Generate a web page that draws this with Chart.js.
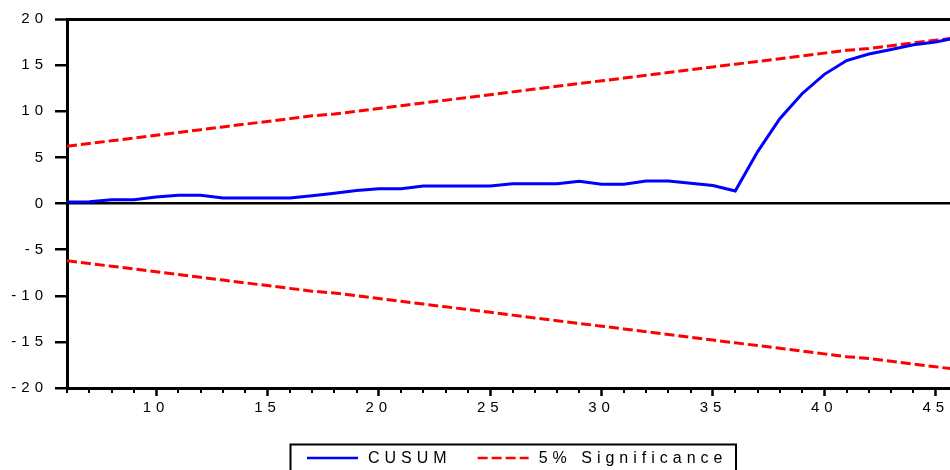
<!DOCTYPE html>
<html>
<head>
<meta charset="utf-8">
<script src="https://cdn.jsdelivr.net/npm/chart.js@4/dist/chart.umd.min.js"></script>
<style>
  html, body { margin: 0; padding: 0; background: #fff; overflow: hidden; }
  #wrap { width: 970px; height: 490px; }
</style>
</head>
<body>
<div id="wrap"><canvas id="cusumChart" width="970" height="490"></canvas></div>
<script>
// observation index (x axis)
const periods = [6, 7, 8, 9, 10, 11, 12, 13, 14, 15, 16, 17, 18, 19, 20, 21, 22, 23, 24, 25, 26,
  27, 28, 29, 30, 31, 32, 33, 34, 35, 36, 37, 38, 39, 40, 41, 42, 43, 44, 45, 46];

const cusum = [0.15, 0.2, 0.4, 0.4, 0.7, 0.9, 0.9, 0.6, 0.6, 0.6, 0.6, 0.85, 1.1, 1.4, 1.6, 1.6,
  1.9, 1.9, 1.9, 1.9, 2.15, 2.15, 2.15, 2.4, 2.1, 2.1, 2.45, 2.45, 2.2, 1.95, 1.35,
  5.6, 9.2, 11.9, 14.0, 15.5, 16.2, 16.7, 17.2, 17.5, 18.0];

const upper5 = [6.2, 6.5, 6.8, 7.1, 7.4, 7.7, 8.0, 8.3, 8.6, 8.9, 9.2, 9.5, 9.7, 10.0, 10.3, 10.6,
  10.9, 11.2, 11.5, 11.8, 12.1, 12.4, 12.7, 13.0, 13.3, 13.6, 13.9, 14.2, 14.5, 14.8, 15.1,
  15.4, 15.7, 16.0, 16.3, 16.6, 16.8, 17.1, 17.4, 17.7, 18.0];

const lower5 = [-6.2, -6.5, -6.8, -7.1, -7.4, -7.7, -8.0, -8.3, -8.6, -8.9, -9.2, -9.5, -9.7, -10.0, -10.3, -10.6,
  -10.9, -11.2, -11.5, -11.8, -12.1, -12.4, -12.7, -13.0, -13.3, -13.6, -13.9, -14.2, -14.5, -14.8, -15.1,
  -15.4, -15.7, -16.0, -16.3, -16.6, -16.8, -17.1, -17.4, -17.7, -18.0];

const xTicks = [10, 15, 20, 25, 30, 35, 40, 45];
const yTicks = [-20, -15, -10, -5, 0, 5, 10, 15, 20];

const FONT = "'Liberation Sans', Arial, sans-serif";

function points(values) {
  return periods.map((p, i) => ({ x: p, y: values[i] }));
}

// EViews style wide letter spacing
const spacedText = {
  id: "spacedText",
  beforeInit(chart) { chart.ctx.letterSpacing = "5px"; },
  beforeDraw(chart) { chart.ctx.letterSpacing = "5px"; }
};

// short unlabeled ticks on every observation
const minorTicks = {
  id: "minorTicks",
  afterDraw(chart) {
    const xs = chart.scales.x;
    const ctx = chart.ctx;
    const y0 = chart.chartArea.bottom;
    ctx.save();
    ctx.strokeStyle = "#000";
    ctx.lineWidth = 2;
    for (let v = Math.ceil(xs.min); v <= xs.max; v++) {
      if (v % 5 === 0) continue;
      const px = Math.round(xs.getPixelForValue(v));
      ctx.beginPath();
      ctx.moveTo(px, y0);
      ctx.lineTo(px, y0 + 5);
      ctx.stroke();
    }
    ctx.restore();
  }
};

// legend in a box under the chart
const boxedLegend = {
  id: "boxedLegend",
  afterDraw(chart) {
    const ctx = chart.ctx;
    const area = chart.chartArea;
    const items = chart.data.datasets.filter((ds) => ds.label);
    ctx.save();
    ctx.font = "16px " + FONT;
    ctx.letterSpacing = "5px";
    const widths = items.map((ds) => ctx.measureText(ds.label).width);
    const padL = 17, padR = 8, sample = 51, gapText = 10, gapItem = 26;
    let total = padL + padR;
    widths.forEach((w, i) => { total += sample + gapText + w + (i ? gapItem : 0); });
    const left = Math.round((area.left + area.right) / 2 - total / 2);
    const top = 444;
    ctx.lineWidth = 2;
    ctx.strokeStyle = "#000";
    ctx.strokeRect(left + 0.5, top + 0.5, total, 60);

    let x = left + padL;
    const lineY = 458;
    items.forEach((ds, i) => {
      if (i) x += gapItem;
      ctx.beginPath();
      ctx.setLineDash(ds.borderDash || []);
      ctx.strokeStyle = ds.borderColor;
      ctx.lineWidth = 2.5;
      ctx.moveTo(x, lineY);
      ctx.lineTo(x + sample, lineY);
      ctx.stroke();
      ctx.setLineDash([]);
      x += sample + gapText;
      ctx.fillStyle = "#000";
      ctx.textAlign = "left";
      ctx.textBaseline = "alphabetic";
      ctx.fillText(ds.label, x, 462.5);
      x += widths[i];
    });
    ctx.restore();
  }
};

const ctx = document.getElementById("cusumChart").getContext("2d");

new Chart(ctx, {
  type: "line",
  data: {
    datasets: [
      {
        label: "CUSUM",
        data: points(cusum),
        borderColor: "#0000ff",
        borderWidth: 3,
        pointRadius: 0,
        tension: 0
      },
      {
        label: "5% Significance",
        data: points(upper5),
        borderColor: "#ff0000",
        borderWidth: 3,
        borderDash: [10, 4],
        pointRadius: 0,
        tension: 0
      },
      {
        label: "",
        data: points(lower5),
        borderColor: "#ff0000",
        borderWidth: 3,
        borderDash: [10, 4],
        pointRadius: 0,
        tension: 0
      }
    ]
  },
  options: {
    responsive: false,
    animation: false,
    layout: { padding: { left: 0, top: 19, right: 12, bottom: 62 } },
    plugins: { legend: { display: false }, tooltip: { enabled: false } },
    scales: {
      x: {
        type: "linear",
        min: 6,
        max: 46,
        afterBuildTicks: (s) => { s.ticks = xTicks.map((v) => ({ value: v })); },
        afterFit: (s) => { s.height = 40; },
        border: { display: true, color: "#000", width: 3 },
        grid: { drawOnChartArea: false, tickLength: 8, tickWidth: 2.5, tickColor: "#000", color: "#000" },
        ticks: { color: "#000", font: { family: FONT, size: 15 }, padding: 3, maxRotation: 0, autoSkip: false }
      },
      y: {
        type: "linear",
        min: -20,
        max: 20,
        afterBuildTicks: (s) => { s.ticks = yTicks.map((v) => ({ value: v })); },
        afterFit: (s) => { s.width = 67; },
        border: { display: true, color: "#000", width: 3 },
        grid: {
          color: (c) => (c.tick && (c.tick.value === 0 || c.tick.value === 20)) ? "#000" : "rgba(0,0,0,0)",
          lineWidth: (c) => (c.tick && c.tick.value === 20) ? 3 : 2.5,
          tickLength: 12,
          tickWidth: 2.5,
          tickColor: "#000"
        },
        ticks: { color: "#000", font: { family: FONT, size: 15 }, padding: 7, autoSkip: false }
      }
    }
  },
  plugins: [spacedText, minorTicks, boxedLegend]
});
</script>
</body>
</html>
